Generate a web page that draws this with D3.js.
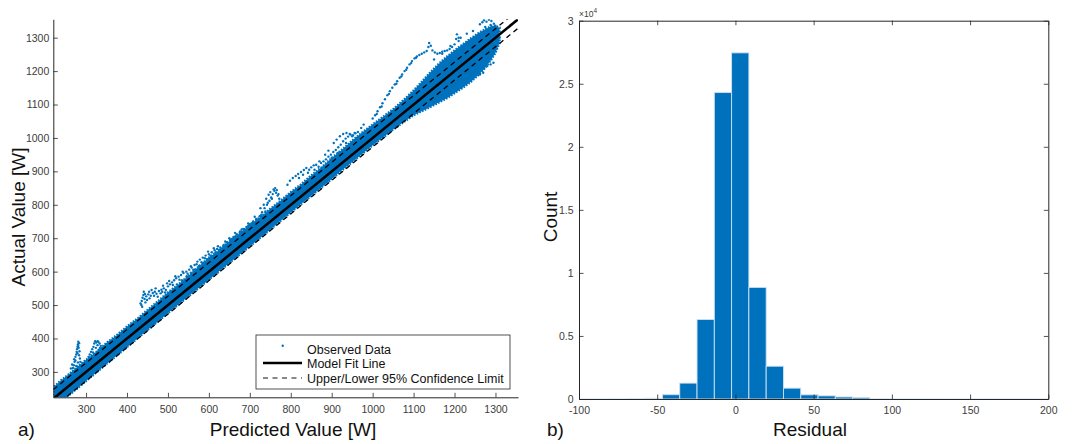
<!DOCTYPE html>
<html>
<head>
<meta charset="utf-8">
<script src="https://cdn.jsdelivr.net/npm/d3@7"></script>
<style>
  body { margin: 0; background: #fff; }
  svg { display: block; }
  text { font-family: "Liberation Sans", Arial, Helvetica, sans-serif; }
</style>
</head>
<body>
<svg id="chart" width="1075" height="444"></svg>
<script>
// ---------- a) Predicted vs. actual ----------
const predictedTicks = [300, 400, 500, 600, 700, 800, 900, 1000, 1100, 1200, 1300];
const actualTicks = [300, 400, 500, 600, 700, 800, 900, 1000, 1100, 1200, 1300];

// model fit and 95% limits, [predicted, actual]
const fitLine = [[220, 220], [1355, 1355]];
const upperLimit = [[220, 247], [1355, 1382]];
const lowerLimit = [[220, 193], [1355, 1328]];

// dense body of the observed data: lower / upper envelope of actual values
const bandPredicted = [222, 240, 260, 280, 300, 325, 350, 375, 400, 425, 450, 475, 500, 525, 550, 575, 600, 625, 650, 675, 700, 725, 750, 775, 800, 825, 850, 875, 900, 925, 950, 975, 1000, 1025, 1050, 1075, 1100, 1120, 1140, 1160, 1180, 1200, 1220, 1240, 1260, 1275, 1290, 1300, 1310];
const bandLow      = [194, 212, 232, 252, 273, 298, 324, 349, 374, 400, 425, 450, 476, 501, 526, 551, 576, 601, 626, 651, 676, 701, 726, 752, 777, 802, 827, 852, 877, 903, 928, 953, 978, 1001, 1025, 1047, 1068, 1080, 1092, 1105, 1118, 1134, 1150, 1168, 1190, 1210, 1235, 1255, 1285];
const bandHigh     = [256, 276, 295, 317, 336, 360, 387, 410, 436, 459, 485, 511, 538, 561, 588, 615, 642, 665, 692, 715, 740, 763, 788, 812, 838, 861, 888, 912, 940, 965, 992, 1017, 1040, 1063, 1086, 1113, 1142, 1168, 1195, 1220, 1242, 1262, 1280, 1298, 1315, 1325, 1335, 1335, 1330];

// observed points lying away from the dense body, [predicted, actual]
const observedOutliers = [
  [263,310],[266,322],[268,312],[270,320],[272,330],[271,338],[274,345],[276,352],[277,360],[278,368],[279,375],[280,382],[281,390],[283,386],[282,372],[284,362],[283,350],[285,340],[280,328],[276,318],[286,330],[274,334],[279,356],[281,378],
  [300,325],[303,335],[306,345],[309,352],[312,360],[315,368],[318,375],[320,385],[322,392],[325,388],[328,380],[330,390],[333,385],[336,378],[338,370],[330,362],[326,350],[320,340],[314,332],[340,360],[310,342],[317,358],[324,372],[334,372],[328,392],[306,330],
  [433,505],[437,495],[441,540],[445,508],[449,515],[455,520],[460,545],[466,528],[470,550],[475,525],[482,535],[488,558],[493,538],[498,565],[444,533],[454,540],[486,540],
  [435,500],[436,512],[438,522],[440,530],[443,518],[447,526],[452,532],[458,528],[463,536],[468,540],[472,534],[478,542],[484,546],[490,550],[495,545],[500,556],[505,562],[510,568],[515,574],[520,580],[526,585],[532,590],[538,596],[545,600],[552,606],[558,612],[565,620],[572,630],[578,636],[585,642],[592,648],[600,652],[607,658],[614,664],[620,668],[628,672],[636,680],[644,688],[652,696],[660,704],[668,712],[676,720],[684,728],[692,734],[700,742],[708,750],[716,758],[724,766],[730,778],[736,790],[742,800],[748,812],[752,822],[756,832],[760,842],[764,836],[768,828],[772,818],[746,830],[740,818],[758,846],[762,850],
  [503,572],[512,560],[518,586],[528,576],[536,600],[548,594],[556,616],[562,606],[570,622],[582,628],[590,640],[598,660],[604,648],[612,670],[622,676],[632,668],[640,690],[650,700],[658,692],[664,716],[672,706],[680,726],[688,720],[696,744],[704,736],[712,764],[720,752],[728,770],[734,800],[744,806],[750,838],[754,818],[766,844],[770,832],[738,780],[726,790],
  [522,562],[534,574],[546,586],[556,597],[566,606],[576,617],[586,626],[596,637],[606,646],[616,657],[626,666],[636,676],[646,686],[656,697],[666,706],[676,716],[686,727],[696,737],[706,746],[716,757],[726,766],
  [792,860],[798,872],[805,880],[812,886],[818,892],[825,898],[832,904],[838,910],[845,905],[850,912],[856,918],[862,920],[868,914],[874,925],[880,930],[886,936],[892,944],[898,950],[904,958],[910,964],[916,972],[922,980],[928,990],[934,998],[940,1004],[946,1010],[952,1008],[958,1014],[964,1018],[972,1030],[978,1040],
  [820,880],[830,890],[900,940],[915,955],[935,985],[960,1000],[905,985],[912,995],[920,1005],[928,1012],[936,1015],[944,1012],[950,1005],[956,1015],[884,950],[892,962],[870,930],[858,905],[842,896],
  [1000,1058],[1006,1068],[1012,1080],[1018,1092],[1024,1104],[1030,1116],[1036,1128],[1042,1140],[1048,1150],[1054,1160],[1060,1170],[1066,1180],[1072,1190],[1078,1200],[1084,1210],[1090,1220],[1096,1230],[1102,1238],[1108,1244],[1114,1248],[1120,1252],[1126,1256],[1132,1260],[1136,1272],[1138,1284],[1142,1276],[1146,1262],[1152,1256],[1158,1252],[1164,1254],[1170,1258],[1176,1260],[1182,1262],[1188,1266],[1194,1272],[1200,1280],[1204,1296],[1206,1310],[1210,1290],[1215,1300],
  [1010,1072],[1022,1094],[1040,1132],[1058,1162],[1070,1184],[1082,1204],[1094,1224],[1106,1240],
  [1150,1235],[1170,1252],[1190,1275],[1210,1300],[1230,1312],[1245,1320],
  [1262,1340],[1268,1346],[1272,1352],[1278,1348],[1284,1354],[1290,1350],[1296,1342],[1300,1336],[1275,1332],[1288,1338],
  [1300,1290],[1305,1296],[1310,1300],[1306,1288],[1300,1280],
  [1250,1210],[1258,1205],[1265,1212],[1272,1208],[1280,1215],[1288,1220],[1295,1225],[1270,1195],[1262,1190]
];

// ---------- b) Residual histogram ----------
const residualEdges = [-101.9, -90.85, -79.8, -68.75, -57.7, -46.65, -35.6, -24.55, -13.5, -2.45, 8.6, 19.65, 30.7, 41.75, 52.8, 63.85, 74.9, 85.95, 97.0, 108.05, 119.1, 130.15, 141.2, 152.25, 163.3, 174.35, 185.4, 196.45, 207.5];
const residualCounts = [3, 3, 5, 12, 60, 340, 1260, 6300, 24300, 27450, 8850, 2600, 860, 330, 250, 160, 110, 8, 4, 3, 3, 2, 2, 2, 3, 3, 2, 2];
const residualTicks = [-100, -50, 0, 50, 100, 150, 200];
const countTicks = [0, 5000, 10000, 15000, 20000, 25000, 30000];

// ---------- styles ----------
const blue = "#0072BD";
const axisColor = "#262626";
const labelColor = "#3c3c3c";
const tickFont = 10.5;
const titleFont = 19;

const svg = d3.select("#chart");

function styleAxis(g) {
  g.select(".domain").attr("stroke", axisColor).attr("stroke-width", 1);
  g.selectAll(".tick line").attr("stroke", axisColor).attr("stroke-width", 0.8);
  g.selectAll(".tick text").attr("fill", labelColor).attr("font-size", tickFont)
    .attr("font-family", '"Liberation Sans", Arial, sans-serif');
}
const plain = d => String(d);

// ===== panel a =====
const xA = d3.scaleLinear().domain([220, 1355]).range([53.3, 518]);
const yA = d3.scaleLinear().domain([224, 1355]).range([397.3, 19.3]);

const defs = svg.append("defs");
defs.append("clipPath").attr("id", "clipA")
  .append("rect").attr("x", xA.range()[0]).attr("y", yA.range()[1])
  .attr("width", xA.range()[1] - xA.range()[0]).attr("height", yA.range()[0] - yA.range()[1]);

const plotA = svg.append("g").attr("clip-path", "url(#clipA)");

const band = bandPredicted.map((p, i) => ({ p, lo: bandLow[i], hi: bandHigh[i] }));
const bandPath = d3.area().x(d => xA(d.p)).y0(d => yA(d.lo)).y1(d => yA(d.hi));
plotA.append("path")
  .datum(band)
  .attr("fill", blue)
  .attr("d", bandPath);
// speckled rim of the dense body
plotA.append("path")
  .datum(band)
  .attr("fill", "none")
  .attr("stroke", blue)
  .attr("stroke-width", 2.4)
  .attr("stroke-dasharray", "1.6,1.4")
  .attr("d", bandPath);

plotA.append("g").selectAll("circle")
  .data(observedOutliers)
  .join("circle")
  .attr("cx", d => xA(d[0])).attr("cy", d => yA(d[1]))
  .attr("r", 1.2).attr("fill", blue);

const lineA = d3.line().x(d => xA(d[0])).y(d => yA(d[1]));
[upperLimit, lowerLimit].forEach(l => {
  plotA.append("path").datum(l).attr("d", lineA)
    .attr("fill", "none").attr("stroke", "#000").attr("stroke-width", 1.3)
    .attr("stroke-dasharray", "5,4");
});
plotA.append("path").datum(fitLine).attr("d", lineA)
  .attr("fill", "none").attr("stroke", "#000").attr("stroke-width", 2.6);

svg.append("g").attr("transform", `translate(0,${yA.range()[0]})`)
  .call(d3.axisBottom(xA).tickValues(predictedTicks).tickFormat(plain).tickSize(-4.5).tickSizeOuter(0).tickPadding(8.5))
  .call(styleAxis);
svg.append("g").attr("transform", `translate(${xA.range()[0]},0)`)
  .call(d3.axisLeft(yA).tickValues(actualTicks).tickFormat(plain).tickSize(-4.5).tickSizeOuter(0).tickPadding(4))
  .call(styleAxis);

svg.append("text").attr("x", 293).attr("y", 436).attr("text-anchor", "middle")
  .attr("font-size", titleFont).attr("fill", "#111").text("Predicted Value [W]");
svg.append("text").attr("transform", "translate(24.5,217) rotate(-90)").attr("text-anchor", "middle")
  .attr("font-size", titleFont).attr("fill", "#111").text("Actual Value [W]");
svg.append("text").attr("x", 18).attr("y", 436).attr("font-size", titleFont).attr("fill", "#111").text("a)");

// legend
const leg = svg.append("g");
leg.append("rect").attr("x", 256).attr("y", 335).attr("width", 254).attr("height", 54)
  .attr("fill", "#fff").attr("stroke", axisColor).attr("stroke-width", 0.8);
leg.append("circle").attr("cx", 282.7).attr("cy", 345.7).attr("r", 1.2).attr("fill", blue);
leg.append("line").attr("x1", 263).attr("x2", 302).attr("y1", 363).attr("y2", 363)
  .attr("stroke", "#000").attr("stroke-width", 2.6);
leg.append("line").attr("x1", 263).attr("x2", 302).attr("y1", 378).attr("y2", 378)
  .attr("stroke", "#111").attr("stroke-width", 1).attr("stroke-dasharray", "5,4.5");
const legendLabels = ["Observed Data", "Model Fit Line", "Upper/Lower 95% Confidence Limit"];
leg.selectAll("text.lab").data(legendLabels).join("text").attr("class", "lab")
  .attr("x", 307).attr("y", (d, i) => 353.5 + i * 14.5)
  .attr("font-size", 12.5).attr("fill", "#111").text(d => d);

// ===== panel b =====
const xB = d3.scaleLinear().domain([-100, 200]).range([579, 1048.3]);
const yB = d3.scaleLinear().domain([0, 30000]).range([399, 20.7]);

defs.append("clipPath").attr("id", "clipB")
  .append("rect").attr("x", xB.range()[0]).attr("y", yB.range()[1])
  .attr("width", xB.range()[1] - xB.range()[0]).attr("height", yB.range()[0] - yB.range()[1]);

const bins = residualCounts.map((c, i) => ({ x0: residualEdges[i], x1: residualEdges[i + 1], c }));
svg.append("g").attr("clip-path", "url(#clipB)").selectAll("rect")
  .data(bins).join("rect")
  .attr("x", d => xB(d.x0)).attr("width", d => xB(d.x1) - xB(d.x0))
  .attr("y", d => yB(d.c)).attr("height", d => yB(0) - yB(d.c))
  .attr("fill", blue).attr("stroke", "#cfe0f0").attr("stroke-width", 0.9);

svg.append("g").attr("transform", `translate(0,${yB.range()[0]})`)
  .call(d3.axisBottom(xB).tickValues(residualTicks).tickFormat(plain).tickSize(-4.5).tickSizeOuter(0).tickPadding(7.5))
  .call(styleAxis);
svg.append("g").attr("transform", `translate(0,${yB.range()[1]})`)
  .call(d3.axisTop(xB).tickValues(residualTicks).tickSize(-4.5).tickSizeOuter(0).tickFormat(""))
  .call(styleAxis);
svg.append("g").attr("transform", `translate(${xB.range()[0]},0)`)
  .call(d3.axisLeft(yB).tickValues(countTicks).tickSize(-4.5).tickSizeOuter(0).tickPadding(5.5)
    .tickFormat(d => String(d / 10000)))
  .call(styleAxis);
svg.append("g").attr("transform", `translate(${xB.range()[1]},0)`)
  .call(d3.axisRight(yB).tickValues(countTicks).tickSize(-4.5).tickSizeOuter(0).tickFormat(""))
  .call(styleAxis);

const mult = svg.append("text").attr("x", 579).attr("y", 16.5).attr("font-size", 8.5).attr("fill", labelColor);
mult.append("tspan").text("×10");
mult.append("tspan").attr("dy", -4).attr("font-size", 6.5).text("4");

svg.append("text").attr("x", 810).attr("y", 436).attr("text-anchor", "middle")
  .attr("font-size", titleFont).attr("fill", "#111").text("Residual");
svg.append("text").attr("transform", "translate(557,217) rotate(-90)").attr("text-anchor", "middle")
  .attr("font-size", titleFont).attr("fill", "#111").text("Count");
svg.append("text").attr("x", 547).attr("y", 436).attr("font-size", titleFont).attr("fill", "#111").text("b)");
</script>
</body>
</html>
